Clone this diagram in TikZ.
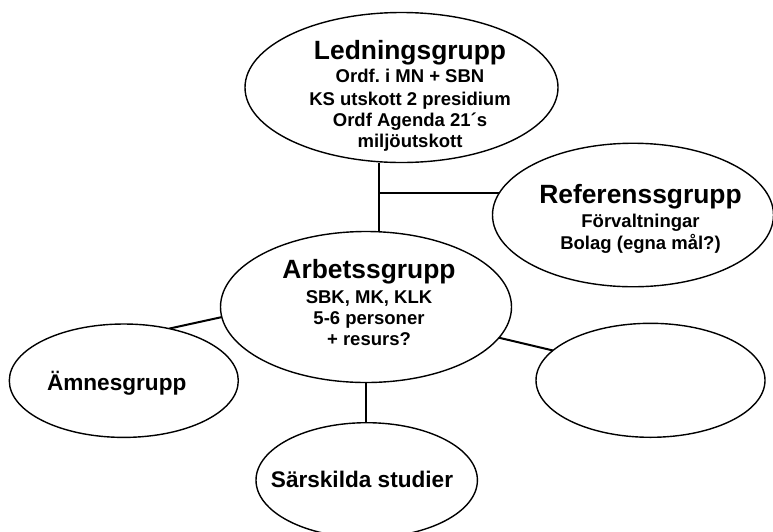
\documentclass[tikz,border=0pt]{standalone}
\usepackage{fontspec}
\setmainfont{Liberation Sans}
\usetikzlibrary{shapes.geometric,calc}
\pgfdeclarelayer{bg}
\pgfsetlayers{bg,main}
\frenchspacing
\begin{document}
\begin{tikzpicture}[x=1pt,y=-1pt,
  oval/.style={ellipse,draw,line width=1.4pt,fill=white,inner sep=0pt,outer sep=0pt},
  big/.style={font=\bfseries\fontsize{26.4}{30}\selectfont,anchor=base,inner sep=0pt},
  small/.style={font=\bfseries\fontsize{18.5}{21}\selectfont,anchor=base,inner sep=0pt},
  mid/.style={font=\bfseries\fontsize{22.6}{26}\selectfont,anchor=base,inner sep=0pt},
  link/.style={line width=2pt}]
\useasboundingbox (0,0) rectangle (773,531);
\begin{scope}
\clip (0,0) rectangle (773,531);
\node[oval,minimum width=313pt,minimum height=150pt] (L) at (401.5,87.5) {};
\node[oval,minimum width=281pt,minimum height=143.5pt] (R) at (633,215) {};
\node[oval,minimum width=291pt,minimum height=151pt] (A) at (366,307) {};
\node[oval,minimum width=229pt,minimum height=113.4pt] (M) at (123.8,380.7) {};
\node[oval,minimum width=229pt,minimum height=114pt] (E) at (650.5,380.3) {};
\node[oval,minimum width=221.4pt,minimum height=115pt] (S) at (366.7,480.2) {};
\node[big] (Lt) at (410,59.3) {Ledningsgrupp};
\node[small] (L1) at (410,82.3) {Ordf. i MN + SBN};
\node[small] (L2) at (410,105) {KS utskott 2 presidium};
\node[small] (L3) at (410,126.7) {Ordf Agenda 21´s};
\node[small] (L4) at (410,147.3) {miljöutskott};
\node[big] (At) at (369,278.3) {Arbetssgrupp};
\node[small] (A1) at (369,303.3) {SBK, MK, KLK};
\node[small] (A2) at (369,324.3) {5-6 personer};
\node[small] (A3) at (369,345.5) {+ resurs?};
\node[big] (Rt) at (640.5,203.3) {Referenssgrupp};
\node[small] (R1) at (640.5,227.3) {Förvaltningar};
\node[small] (R2) at (640.5,249.3) {Bolag (egna mål?)};
\node[mid] (Mt) at (116.7,390) {Ämnesgrupp};
\node[mid] (St) at (362,487.3) {Särskilda studier};
\end{scope}
\coordinate (j) at (379,193);
\begin{pgfonlayer}{bg}
\fill[white] (0,0) rectangle (773,531);
\draw[link] (j |- L.south) -- (j |- A.north);
\draw[link] (j) -- (j -| R.center);
\draw[link] (A.184.1) -- (M.49.5);
\draw[link] (A.-13.5) -- (E.163.5);
\draw[link] (A.south) -- (A.south |- S.north);
\end{pgfonlayer}
\end{tikzpicture}
\end{document}
